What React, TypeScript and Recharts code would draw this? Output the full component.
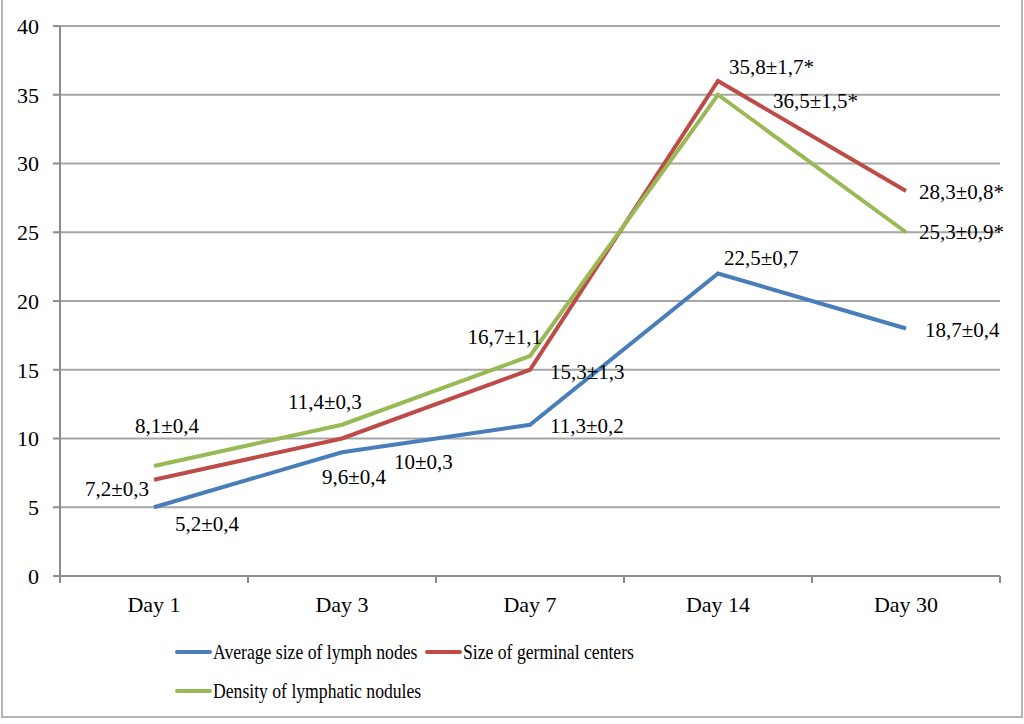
import React from "react";
import {
  LineChart,
  Line,
  XAxis,
  YAxis,
  CartesianGrid,
  LabelList,
} from "recharts";

const days = ["Day 1", "Day 3", "Day 7", "Day 14", "Day 30"];

const lymphNodes = [5, 9, 11, 22, 18];
const germinalCenters = [7, 10, 15, 36, 28];
const nodulesDensity = [8, 11, 16, 35, 25];

const lymphLabels = ["5,2±0,4", "9,6±0,4", "11,3±0,2", "22,5±0,7", "18,7±0,4"];
const germinalLabels = ["7,2±0,3", "10±0,3", "15,3±1,3", "35,8±1,7*", "28,3±0,8*"];
const densityLabels = ["8,1±0,4", "11,4±0,3", "16,7±1,1", "36,5±1,5*", "25,3±0,9*"];

const yTicks = [0, 5, 10, 15, 20, 25, 30, 35, 40];

// label placement relative to each point: [dx, dy, anchor]
type Place = [number, number, "start" | "end" | "middle"];
const lymphPlace: Place[] = [
  [21, 17, "start"],
  [-20, 25, "start"],
  [20, 1, "start"],
  [6, -16, "start"],
  [19, 1, "start"],
];
const germinalPlace: Place[] = [
  [-5, 9, "end"],
  [52, 23, "start"],
  [20, 2, "start"],
  [11, -14, "start"],
  [13, 1, "start"],
];
const densityPlace: Place[] = [
  [-19, -40, "start"],
  [-54, -23, "start"],
  [12, -19, "end"],
  [55, 6, "start"],
  [13, 0, "start"],
];

const BLUE = "#4a7ebb";
const RED = "#be4b48";
const GREEN = "#98b954";
const AXIS = "#8c8c8c";
const FONT = "'Times New Roman', 'Liberation Serif', 'DejaVu Serif', serif";

const data = days.map((day, i) => ({
  day,
  lymph: lymphNodes[i],
  germinal: germinalCenters[i],
  density: nodulesDensity[i],
  lymphLabel: lymphLabels[i],
  germinalLabel: germinalLabels[i],
  densityLabel: densityLabels[i],
}));

const makeLabel = (place: Place[]) => (props: any) => {
  const { x, y, value, index } = props;
  const [dx, dy, anchor] = place[index];
  return (
    <text
      x={x + dx}
      y={y + dy}
      textAnchor={anchor}
      dominantBaseline="central"
      fontFamily={FONT}
      fontSize={21}
      fill="#000"
    >
      {value}
    </text>
  );
};

const DayTick = (props: any) => {
  const { x, y, payload, index } = props;
  const half = payload.offset || 94;
  return (
    <g>
      <line x1={x - half} y1={y} x2={x - half} y2={y + 7} stroke={AXIS} strokeWidth={2} />
      {index === days.length - 1 && (
        <line x1={x + half} y1={y} x2={x + half} y2={y + 7} stroke={AXIS} strokeWidth={2} />
      )}
      <text x={x} y={y + 36} textAnchor="middle" fontFamily={FONT} fontSize={22} fill="#000">
        {payload.value}
      </text>
    </g>
  );
};

const legendItems = [
  { name: "Average size of lymph nodes", color: BLUE, left: 175, top: 652 },
  { name: "Size of germinal centers", color: RED, left: 425, top: 652 },
  { name: "Density of lymphatic nodules", color: GREEN, left: 175, top: 691 },
];

export default function App() {
  return (
    <div
      style={{
        position: "absolute",
        left: 0,
        top: 0,
        width: 1024,
        height: 724,
        background: "#fff",
        fontFamily: FONT,
      }}
    >
      <div
        style={{
          position: "absolute",
          left: 1,
          top: -2,
          width: 1018,
          height: 716,
          border: "2px solid #b4b4b4",
        }}
      />
      <LineChart
        width={1024}
        height={724}
        data={data}
        margin={{ top: 26, right: 24, left: 0, bottom: 88 }}
      >
        <CartesianGrid vertical={false} stroke="#a6a6a6" strokeWidth={2} />
        <XAxis
          dataKey="day"
          scale="band"
          height={60}
          axisLine={{ stroke: AXIS, strokeWidth: 2 }}
          tickLine={false}
          tickSize={0}
          tickMargin={0}
          tick={<DayTick />}
          interval={0}
        />
        <YAxis
          domain={[0, 40]}
          ticks={yTicks}
          width={60}
          axisLine={{ stroke: AXIS, strokeWidth: 2 }}
          tickLine={{ stroke: AXIS, strokeWidth: 2 }}
          tickSize={7}
          tickMargin={14}
          tick={{ fontFamily: FONT, fontSize: 22, fill: "#000" }}
        />
        <Line
          dataKey="lymph"
          stroke={BLUE}
          strokeWidth={4}
          dot={false}
          type="linear"
          isAnimationActive={false}
        >
          <LabelList dataKey="lymphLabel" content={makeLabel(lymphPlace)} />
        </Line>
        <Line
          dataKey="germinal"
          stroke={RED}
          strokeWidth={4}
          dot={false}
          type="linear"
          isAnimationActive={false}
        >
          <LabelList dataKey="germinalLabel" content={makeLabel(germinalPlace)} />
        </Line>
        <Line
          dataKey="density"
          stroke={GREEN}
          strokeWidth={4}
          dot={false}
          type="linear"
          isAnimationActive={false}
        >
          <LabelList dataKey="densityLabel" content={makeLabel(densityPlace)} />
        </Line>
      </LineChart>
      {legendItems.map((it) => (
        <div
          key={it.name}
          style={{
            position: "absolute",
            left: it.left,
            top: it.top - 14,
            height: 28,
            display: "flex",
            alignItems: "center",
          }}
        >
          <div style={{ width: 37, height: 4, borderRadius: 2, background: it.color }} />
          <span
            style={{
              fontFamily: FONT,
              fontSize: 21,
              color: "#000",
              marginLeft: 1,
              display: "inline-block",
              transform: "scaleX(0.84)",
              transformOrigin: "left center",
              whiteSpace: "nowrap",
            }}
          >
            {it.name}
          </span>
        </div>
      ))}
    </div>
  );
}
